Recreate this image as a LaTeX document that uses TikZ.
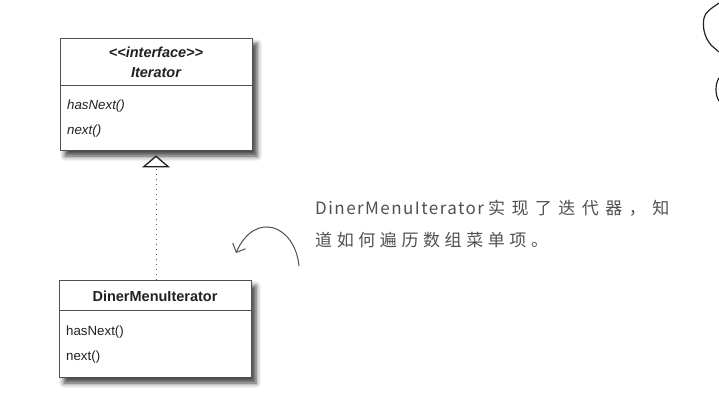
\documentclass[tikz,border=0pt]{standalone}
\usepackage{fontspec}
\setmainfont{Liberation Sans}
\newfontfamily\cjk{Noto Sans CJK SC}
\usetikzlibrary{arrows.meta,shadows.blur}
\definecolor{ink}{HTML}{222222}
\definecolor{frame}{HTML}{505050}
\definecolor{hand}{HTML}{505050}
\begin{document}
\begin{tikzpicture}[x=1pt,y=-1pt,
  part/.style={draw=frame,line width=0.9pt,fill=white,minimum width=192pt,inner sep=0pt},
  umltxt/.style={text=ink,inner sep=0pt,font=\fontsize{13.3}{15}\selectfont},
  umlbold/.style={umltxt,font=\fontsize{14.5}{17}\selectfont\bfseries},
  umlbi/.style={umltxt,font=\fontsize{14.5}{17}\selectfont\bfseries\itshape},
  umlit/.style={umltxt,font=\fontsize{13.3}{15}\selectfont\itshape},
  handtxt/.style={text=hand,inner sep=0pt,anchor=west,font=\fontsize{17}{19}\cjk},
  boxshadow/.style={fill=white,blur shadow={shadow xshift=5pt,shadow yshift=-6pt,shadow blur radius=5pt,shadow opacity=75}}
]
\useasboundingbox (0,0) rectangle (719,419);
% shadows
\fill[boxshadow] (60,38) rectangle (252,150);
\fill[boxshadow] (59,280) rectangle (251,377);
% Iterator box
\node[part,minimum height=47pt] (ithead) at (156,61.5) {};
\node[part,minimum height=65pt] (itbody) at (156,117.5) {};
\node[umlbi] (itster) at (156,52) {<\kern0pt<interface>\kern0pt>};
\node[umlbi] (itname) at (156,72.5) {Iterator};
\node[umlit,anchor=west] (ithas) at (67,106) {hasNext()};
\node[umlit,anchor=west] (itnext) at (67,131) {next()};
% DinerMenuIterator box
\node[part,minimum height=30pt] (dmhead) at (155,295) {};
\node[part,minimum height=67pt] (dmbody) at (155,343.5) {};
\node[umlbold] (dmname) at (155,296.5) {DinerMenuIterator};
\node[umltxt,anchor=west] (dmhas) at (66,332) {hasNext()};
\node[umltxt,anchor=west] (dmnext) at (66,357) {next()};
% realization
\draw[hand,line width=1pt,dash pattern=on 1pt off 4pt,
  -{Triangle[open,length=12pt,width=28pt,line width=1.3pt,color=ink,fill=white]},shorten >=5pt]
  (dmhead.north -| itbody.south) -- (itbody.south);
% annotation
\node[handtxt] (note1) at (315,208) {\addfontfeature{LetterSpace=8.5}DinerMenuIterator\hspace{4pt}\addfontfeature{LetterSpace=38}实现了迭代器，知};
\node[handtxt] (note2) at (315,240) {\addfontfeature{LetterSpace=27}道如何遍历数组菜单项。};
\coordinate (arrstart) at (299,266);
\coordinate (arrend) at (236,253);
\draw[hand,line width=1pt,-{Straight Barb[length=7pt,width=14pt]}]
  (arrstart) .. controls (295,225) and (255,210) .. (arrend);
% partial sketch at right edge
\coordinate (s1) at (719,3);
\coordinate (s2) at (719,52);
\draw[ink,line width=1.2pt,line cap=round] (s1) .. controls (712,8) and (705,12) .. (704,18)
  .. controls (702,28) and (705,38) .. (711,45) .. controls (714,48) and (717,50) .. (s2);
\coordinate (s3) at (719,78);
\coordinate (s4) at (719,101);
\draw[ink,line width=1.2pt] (s3) .. controls (715,84) and (715,95) .. (s4);
\end{tikzpicture}
\end{document}
